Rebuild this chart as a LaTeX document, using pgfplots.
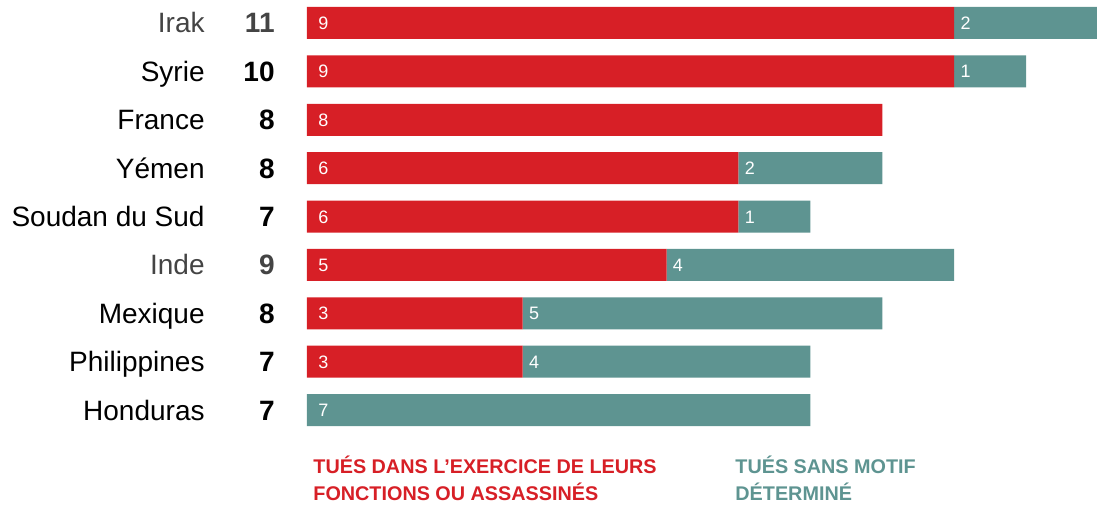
\documentclass[border=0pt]{standalone}
\usepackage{pgfplots}
\pgfplotsset{compat=1.18}
\usepackage{pgfplotstable}
\usepackage{fontspec}
\setmainfont{Liberation Sans}
\definecolor{cred}{HTML}{D71F26}
\definecolor{cteal}{HTML}{5E9491}
\definecolor{cgray}{HTML}{444444}

\pgfplotstableread{
y red teal
0 9 2
1 9 1
2 8 0
3 6 2
4 6 1
5 5 4
6 3 5
7 3 4
8 0 7
}\bars

\pgfplotstableread{
x y v
0 0 9
0 1 9
0 2 8
0 3 6
0 4 6
0 5 5
0 6 3
0 7 3
0 8 7
}\labA

\pgfplotstableread{
x y v
9 0 2
9 1 1
6 3 2
6 4 1
5 5 4
3 6 5
3 7 4
}\labB

\newcommand{\lab}[3]{\textcolor{#1}{#2\makebox[35pt][r]{\bfseries #3}}}

\pgfplotsset{base/.style={at={(153.5pt,0pt)}, anchor=south west, scale only axis,
  width=395.5pt, height=252pt, xmin=0, xmax=11, ymin=-0.475, ymax=9.94, y dir=reverse, clip=false}}

\begin{document}
\begin{tikzpicture}
\begin{axis}[base, xbar stacked, bar width=16pt,
  axis line style={draw=none}, major tick length=0pt, xtick=\empty,
  ytick={0,...,8},
  yticklabels={{\lab{cgray}{Irak}{11}},{\lab{black}{Syrie}{10}},{\lab{black}{France}{8}},
    {\lab{black}{Yémen}{8}},{\lab{black}{Soudan du Sud}{7}},{\lab{cgray}{Inde}{9}},
    {\lab{black}{Mexique}{8}},{\lab{black}{Philippines}{7}},{\lab{black}{Honduras}{7}}},
  yticklabel style={font=\fontsize{14}{16}\selectfont, anchor=east, inner sep=0pt,
    text height=10pt, text depth=0pt, xshift=-16pt}]
\addplot[fill=cred, draw=none] table[x=red, y=y] {\bars};
\addplot[fill=cteal, draw=none] table[x=teal, y=y] {\bars};
\end{axis}
\begin{axis}[base, hide axis]
\addplot[only marks, mark=*, mark size=0pt, mark options={draw=none, fill=none},
  nodes near coords, point meta=explicit symbolic,
  nodes near coords style={anchor=west, white, inner sep=0pt, text height=6.5pt, text depth=0pt,
    xshift=5.5pt, font=\fontsize{9}{10}\selectfont}]
  table[x=x, y=y, meta=v] {\labA};
\addplot[only marks, mark=*, mark size=0pt, mark options={draw=none, fill=none},
  nodes near coords, point meta=explicit symbolic,
  nodes near coords style={anchor=west, white, inner sep=0pt, text height=6.5pt, text depth=0pt,
    xshift=3pt, font=\fontsize{9}{10}\selectfont}]
  table[x=x, y=y, meta=v] {\labB};
\end{axis}
\node[anchor=base west, inner sep=0pt, text=cred, font=\fontsize{9.9}{11}\selectfont\bfseries] at (156.5pt,15.25pt) {TUÉS DANS L’EXERCICE DE LEURS};
\node[anchor=base west, inner sep=0pt, text=cred, font=\fontsize{9.9}{11}\selectfont\bfseries] at (156.5pt,1.75pt) {FONCTIONS OU ASSASSINÉS};
\node[anchor=base west, inner sep=0pt, text=cteal, font=\fontsize{9.9}{11}\selectfont\bfseries] at (367.5pt,15.25pt) {TUÉS SANS MOTIF};
\node[anchor=base west, inner sep=0pt, text=cteal, font=\fontsize{9.9}{11}\selectfont\bfseries] at (367.5pt,1.75pt) {DÉTERMINÉ};
\pgfresetboundingbox
\path (0pt,0pt) rectangle (548.5pt,252pt);
\end{tikzpicture}
\end{document}
